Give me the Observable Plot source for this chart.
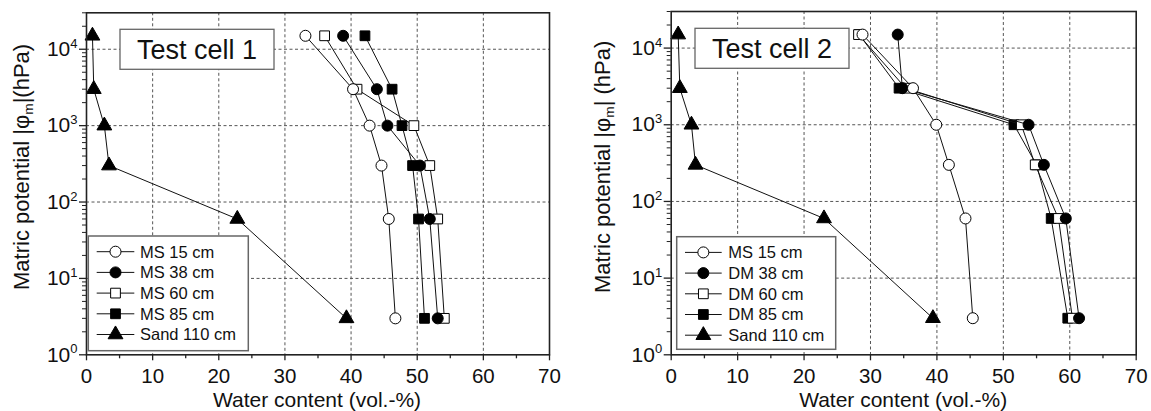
<!DOCTYPE html>
<html><head><meta charset="utf-8">
<script src="https://cdn.jsdelivr.net/npm/d3@7"></script>
<script src="https://cdn.jsdelivr.net/npm/@observablehq/plot@0.6"></script>
<style>
body{margin:0;background:#fff;}
#wrap{display:flex;width:1151px;height:411px;overflow:hidden;}
</style></head><body><div id="wrap"></div>
<script>
// Matric potential levels (hPa)
const potential = [15000, 3000, 1000, 300, 60, 3];

// Test cell 1 – water content (vol.-%)
const cell1Names = ["MS 15 cm", "MS 38 cm", "MS 60 cm", "MS 85 cm", "Sand 110 cm"];
const cell1MS15 = [33.1, 40.3, 42.8, 44.6, 45.7, 46.7];
const cell1MS38 = [38.8, 43.9, 45.5, 50.4, 51.9, 53.1];
const cell1MS60 = [36.0, 40.9, 49.5, 51.9, 53.1, 54.1];
const cell1MS85 = [42.1, 46.2, 47.7, 49.3, 50.2, 51.1];
const cell1Sand = [0.9, 1.1, 2.7, 3.4, 22.8, 39.3];

// Test cell 2 – water content (vol.-%)
const cell2Names = ["MS 15 cm", "DM 38 cm", "DM 60 cm", "DM 85 cm", "Sand 110 cm"];
const cell2MS15 = [28.8, 36.4, 39.9, 41.8, 44.3, 45.4];
const cell2DM38 = [34.1, 34.8, 53.8, 56.1, 59.4, 61.4];
const cell2DM60 = [28.2, 35.3, 52.7, 54.8, 58.3, 60.4];
const cell2DM85 = [28.3, 34.3, 51.6, 55.0, 57.2, 59.7];
const cell2Sand = [1.05, 1.3, 3.05, 3.66, 23.0, 39.4];

// Tick labels
const xTicks = [0, 10, 20, 30, 40, 50, 60, 70];
const xMinor = [5, 15, 25, 35, 45, 55, 65];
const yTicks = [1, 10, 100, 1000, 10000];
const yMinor = [2,3,4,5,6,7,8,9,20,30,40,50,60,70,80,90,200,300,400,500,600,700,800,900,
                2000,3000,4000,5000,6000,7000,8000,9000,20000,30000];

const symbols = ["circle", "circle", "square", "square", "triangle"];
const fills = ["white", "black", "white", "black", "black"];
const R = 5.5;

function panel(cfg) {
  const series = cfg.values.map((vals, k) => ({
    name: cfg.names[k], symbol: symbols[k], fill: fills[k],
    rows: vals.map((w, i) => ({w, p: potential[i]}))
  }));
  const marks = [
    Plot.gridX(xTicks.slice(1, -1), {stroke: "#555", strokeOpacity: 1, strokeDasharray: "3,2.5", strokeWidth: 1}),
    Plot.gridY(yTicks.slice(1), {stroke: "#555", strokeOpacity: 1, strokeDasharray: "3,2.5", strokeWidth: 1}),
    Plot.axisX(xTicks, {anchor: "bottom", tickSize: 6, tickPadding: 8, fontSize: 20.5, label: null, stroke: "#222", strokeWidth: 1.3}),
    Plot.axisX(xMinor, {anchor: "bottom", tickSize: 4, fill: "none", label: null, stroke: "#222", strokeWidth: 1.3}),
    Plot.axisY(yTicks, {anchor: "left", tickSize: 7, tickPadding: 2, fontSize: 21, label: null, stroke: "#222", strokeWidth: 1.3,
      tickFormat: d => "10^" + Math.round(Math.log10(d))}),
    Plot.axisY(yMinor, {anchor: "left", tickSize: 4, fill: "none", label: null, stroke: "#222", strokeWidth: 1})
  ];
  // draw in reverse order so the first series is on top
  for (const s of series.slice().reverse()) {
    marks.push(Plot.line(s.rows, {x: "w", y: "p", stroke: "#111", strokeWidth: 1}));
    marks.push(Plot.dot(s.rows, {x: "w", y: "p", symbol: s.symbol, fill: s.fill, stroke: "#000", strokeWidth: 1, r: R}));
  }
  marks.push(Plot.frame({stroke: "#222", strokeWidth: 1.6}));

  const svg = Plot.plot({
    width: cfg.width, height: 411,
    marginLeft: cfg.ml, marginRight: cfg.mr, marginTop: cfg.mt, marginBottom: 56.7,
    style: {fontFamily: "'Liberation Sans', Arial, sans-serif", background: "white", color: "#111", overflow: "visible"},
    x: {domain: [0, 70]},
    y: {type: "log", domain: [1, 30000]},
    marks
  });
  const S = d3.select(svg);
  // superscript exponents for y tick labels
  S.selectAll('g[aria-label="y-axis tick label"] text').each(function() {
    const t = this.textContent.split("^");
    const el = d3.select(this);
    el.text(null);
    el.append("tspan").text(t[0]);
    el.append("tspan").attr("font-size", "0.62em").attr("dy", "-0.62em").text(t[1]);
  });
  // y axis title
  const yl = S.append("text")
    .attr("transform", `translate(${cfg.ylx},${cfg.yly}) rotate(-90)`)
    .attr("font-size", 22).attr("fill", "#111").attr("text-anchor", "start");
  yl.append("tspan").text("Matric potential |φ");
  yl.append("tspan").attr("font-size", "0.62em").attr("dy", "0.3em").text("m");
  yl.append("tspan").attr("dy", "-0.19em").text(cfg.ylTail);
  // x axis title
  S.append("text").attr("x", cfg.xlx).attr("y", 406.5).attr("text-anchor", "middle")
    .attr("font-size", 21).attr("fill", "#111").text("Water content (vol.-%)");
  // title box
  S.append("rect").attr("x", 120).attr("y", cfg.tby).attr("width", 154).attr("height", 40)
    .attr("fill", "white").attr("stroke", "#666").attr("stroke-width", 1.3);
  S.append("text").attr("x", 197).attr("y", cfg.tby + 30).attr("text-anchor", "middle")
    .attr("font-size", 27).attr("fill", "#111").text(cfg.title);
  // legend
  const L = cfg.leg;
  S.append("rect").attr("x", L.x).attr("y", L.y).attr("width", L.w).attr("height", L.h)
    .attr("fill", "white").attr("stroke", "#666").attr("stroke-width", 1.5);
  const symMap = {circle: d3.symbolCircle, square: d3.symbolSquare, triangle: d3.symbolTriangle};
  series.forEach((s, i) => {
    const y = L.y + 15.7 + i * 20.7;
    S.append("line").attr("x1", L.l1).attr("x2", L.l2).attr("y1", y).attr("y2", y)
      .attr("stroke", "#111").attr("stroke-width", 1);
    S.append("path").attr("d", d3.symbol(symMap[s.symbol], Math.PI * R * R)())
      .attr("transform", `translate(${(L.l1 + L.l2) / 2},${y})`)
      .attr("fill", s.fill).attr("stroke", "#000").attr("stroke-width", 1);
    S.append("text").attr("x", L.tx).attr("y", y).attr("dy", "0.36em").attr("text-anchor", "start")
      .attr("font-size", 16.5).attr("fill", "#111").text(s.name);
  });
  return svg;
}

const wrap = document.getElementById("wrap");
wrap.append(panel({
  width: 575, ml: 86, mr: 26, mt: 12.3,
  names: cell1Names, values: [cell1MS15, cell1MS38, cell1MS60, cell1MS85, cell1Sand],
  title: "Test cell 1", tby: 29.3, ylx: 29.3, yly: 290, ylTail: "|(hPa)", xlx: 317,
  leg: {x: 88.3, y: 236, w: 160, h: 114.7, l1: 96.7, l2: 134.3, tx: 140}
}));
wrap.append(panel({
  width: 576, ml: 95.7, mr: 15.3, mt: 11,
  names: cell2Names, values: [cell2MS15, cell2DM38, cell2DM60, cell2DM85, cell2Sand],
  title: "Test cell 2", tby: 28.3, ylx: 35, yly: 293, ylTail: "| (hPa)", xlx: 328.2,
  leg: {x: 101.7, y: 236.7, w: 159, h: 112.6, l1: 110, l2: 146.7, tx: 153.3}
}));
</script></body></html>
